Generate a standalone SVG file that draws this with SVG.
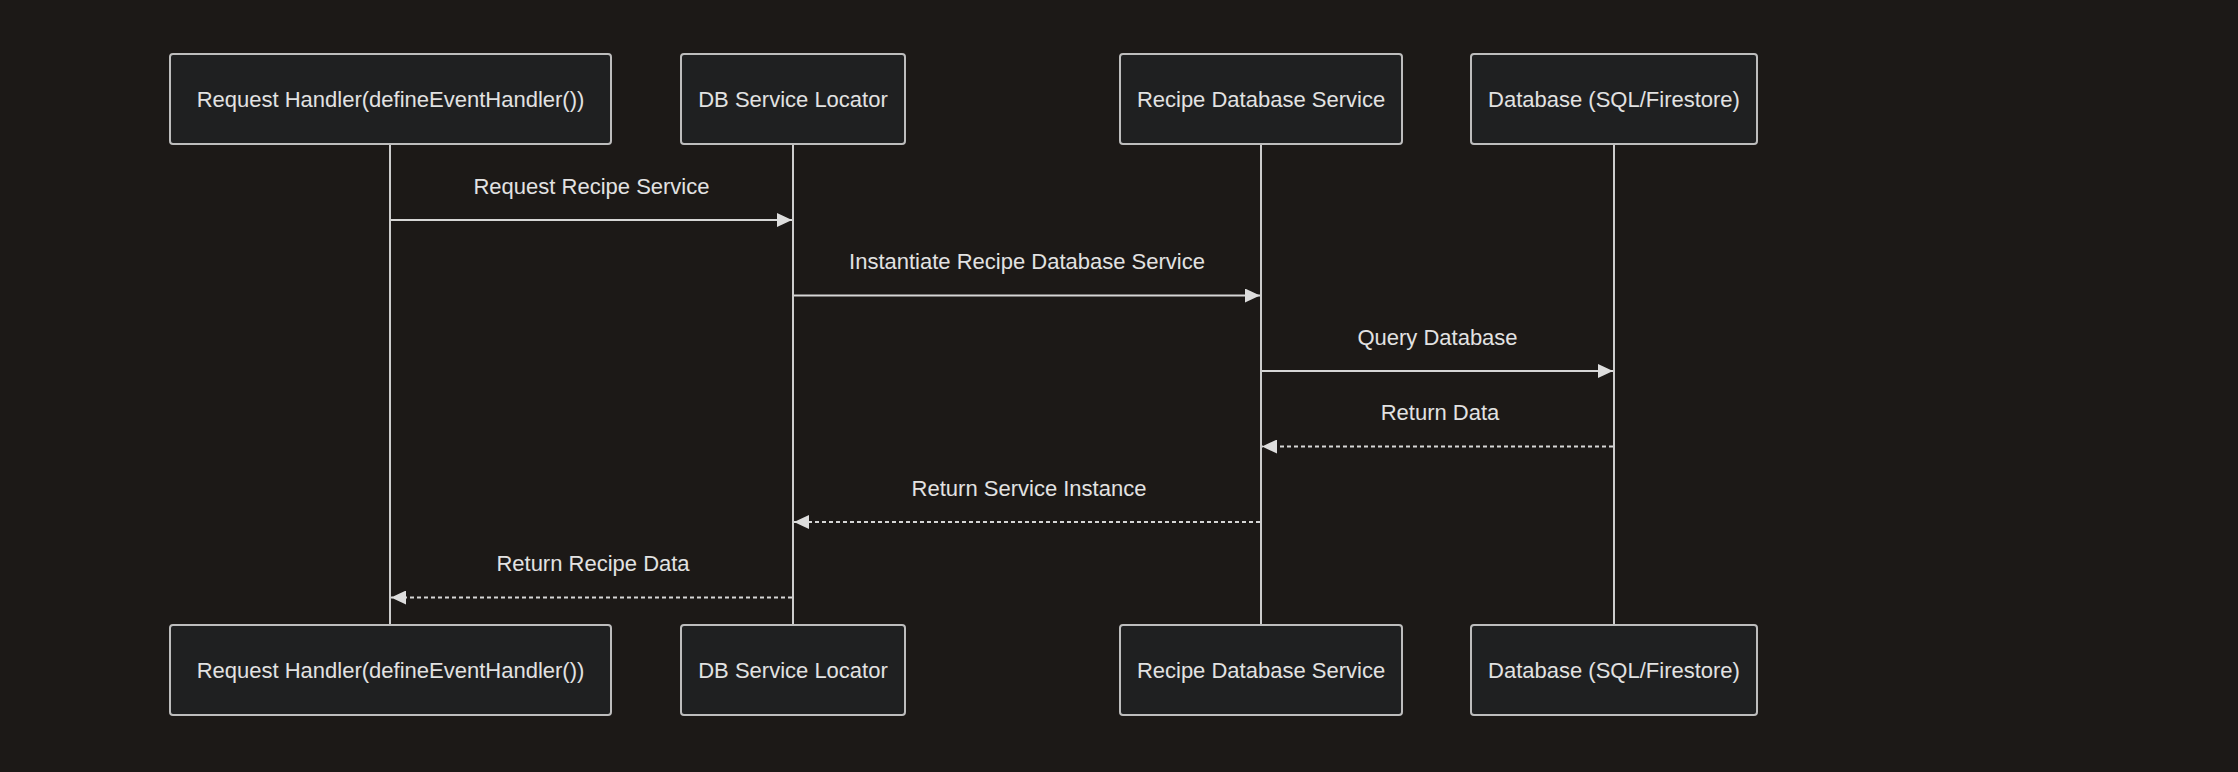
<svg xmlns="http://www.w3.org/2000/svg" width="2238" height="772" viewBox="0 0 2238 772">
<style>
.bg{fill:#1c1917}
.box{fill:#1f2021;stroke:#bdbdbd;stroke-width:2}
.life{stroke:#cccccc;stroke-width:2;fill:none}
.msg{stroke:#d6d6d6;stroke-width:2;fill:none}
.dash{stroke-dasharray:4,3}
text{font-family:"Liberation Sans",Arial,sans-serif;font-size:22px;fill:#e2e2e2;text-anchor:middle}
</style>
<defs>
<marker id="arrow" viewBox="0 0 15 14" refX="15" refY="7" markerWidth="15" markerHeight="14" markerUnits="userSpaceOnUse" orient="auto">
<path d="M0,0 L15,7 L0,14 z" fill="#dddddd"/>
</marker>
</defs>
<rect class="bg" x="0" y="0" width="2238" height="772"/>
<g id="lifelines">
<line class="life" x1="390" y1="144" x2="390" y2="625"/>
<line class="life" x1="793" y1="144" x2="793" y2="625"/>
<line class="life" x1="1261" y1="144" x2="1261" y2="625"/>
<line class="life" x1="1614" y1="144" x2="1614" y2="625"/>
</g>
<g id="handler-top"><rect class="box" x="170" y="54" width="441" height="90" rx="3"/><text x="390.5" y="107">Request Handler(defineEventHandler())</text></g>
<g id="locator-top"><rect class="box" x="681" y="54" width="224" height="90" rx="3"/><text x="793" y="107">DB Service Locator</text></g>
<g id="service-top"><rect class="box" x="1120" y="54" width="282" height="90" rx="3"/><text x="1261" y="107">Recipe Database Service</text></g>
<g id="database-top"><rect class="box" x="1471" y="54" width="286" height="90" rx="3"/><text x="1614" y="107">Database (SQL/Firestore)</text></g>
<g id="handler-bottom"><rect class="box" x="170" y="625" width="441" height="90" rx="3"/><text x="390.5" y="678">Request Handler(defineEventHandler())</text></g>
<g id="locator-bottom"><rect class="box" x="681" y="625" width="224" height="90" rx="3"/><text x="793" y="678">DB Service Locator</text></g>
<g id="service-bottom"><rect class="box" x="1120" y="625" width="282" height="90" rx="3"/><text x="1261" y="678">Recipe Database Service</text></g>
<g id="database-bottom"><rect class="box" x="1471" y="625" width="286" height="90" rx="3"/><text x="1614" y="678">Database (SQL/Firestore)</text></g>
<g id="connectors">
<line class="msg" x1="391" y1="220" x2="792" y2="220" marker-end="url(#arrow)"/>
<text x="591.5" y="193.5">Request Recipe Service</text>
<line class="msg" x1="794" y1="295.5" x2="1260" y2="295.5" marker-end="url(#arrow)"/>
<text x="1027" y="269">Instantiate Recipe Database Service</text>
<line class="msg" x1="1262" y1="371" x2="1613" y2="371" marker-end="url(#arrow)"/>
<text x="1437.5" y="344.5">Query Database</text>
<line class="msg dash" x1="1613" y1="446.5" x2="1262" y2="446.5" marker-end="url(#arrow)"/>
<text x="1440" y="420">Return Data</text>
<line class="msg dash" x1="1260" y1="522" x2="794" y2="522" marker-end="url(#arrow)"/>
<text x="1029" y="495.5">Return Service Instance</text>
<line class="msg dash" x1="792" y1="597.5" x2="391" y2="597.5" marker-end="url(#arrow)"/>
<text x="593" y="571">Return Recipe Data</text>
</g>
</svg>
